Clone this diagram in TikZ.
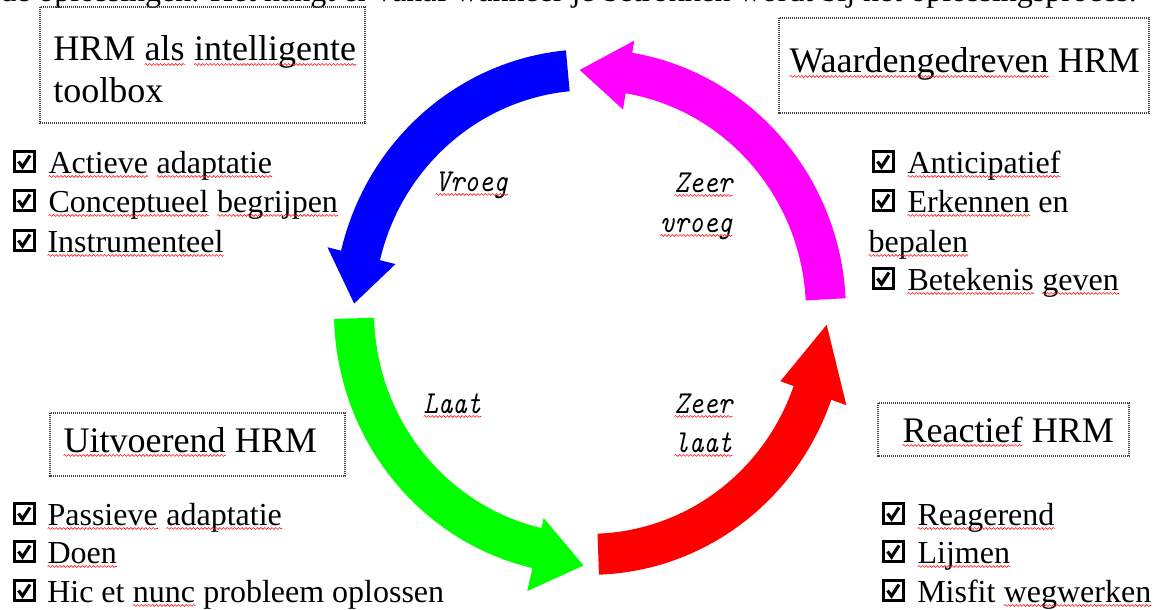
\documentclass[tikz,border=0pt]{standalone}
\usepackage{fontspec}
\setmainfont{Liberation Serif}
\newfontfamily\cuefont[ItalicFont=lmmono10-italic.otf, FakeStretch=0.86]{lmmono10-regular.otf}
\usetikzlibrary{decorations.pathmorphing}

\definecolor{arrMagenta}{RGB}{255,0,255}
\definecolor{arrBlue}{RGB}{0,0,255}
\definecolor{arrGreen}{RGB}{0,255,0}
\definecolor{arrRed}{RGB}{255,0,0}

% red wavy underline under a word
\tikzset{squiggle/.style={draw=red!90!white, line width=0.45pt, decorate,
  decoration={snake, amplitude=0.7pt, segment length=2.8pt}}}
\newcommand\sq[1]{\tikz[baseline=(sqw.base)]{\node[inner sep=0pt,outer sep=0pt](sqw){#1};%
  \draw[squiggle] ([yshift=-2.6pt]sqw.base west) -- ([yshift=-2.6pt]sqw.base east);}}

% outer and inner radius of the ring band
\def\arcRo{256}
\def\arcRi{216}
% colour, start angle, head base angle, tip angle, inner wing, outer wing, tip radius
\newcommand\cyclearrow[7]{%
  \fill[#1] (#2:\arcRo) arc[start angle=#2, end angle=#3, radius=\arcRo]
    -- (#3:#6) -- (#4:#7) -- (#3:#5) -- (#3:\arcRi)
    arc[start angle=#3, end angle=#2, radius=\arcRi] -- cycle;}

\begin{document}
\begin{tikzpicture}[x=0.75pt, y=-0.75pt,
  heading/.style={anchor=base west, inner sep=0pt, font=\fontsize{27}{31.5}\selectfont},
  item/.style={anchor=base west, inner sep=0pt, font=\fontsize{24}{30}\selectfont},
  cue/.style={inner sep=0pt, font=\cuefont\itshape\fontsize{24}{28}\selectfont},
  frame/.style={draw=black!75, line width=0.8pt, dash pattern=on 0.8pt off 0.7pt},
  chk/.pic={\draw[line width=2.3pt] (1.5,-1.5) rectangle (21.5,-21.5);
            \draw[line width=2.4pt, line join=miter] (5.5,-11.5) -- (9.5,-6) -- (17,-17.5);}]
\useasboundingbox (0,0) rectangle (1157,610);
\fill[white] (0,0) rectangle (1157,610);

% running text of the page above the figure
\begin{scope}
  \clip (0,0) rectangle (1157,610);
  \node[item] (runon) at (0,2) {de oplossingen. Het hangt er vanaf wanneer je betrokken wordt bij het oplossingsproces.};
\end{scope}

% the four cycle arrows
\begin{scope}[shift={(590,312)}, y=0.77pt]
  \cyclearrow{arrMagenta}{3}{80.5}{92.5}{200}{268}{236}
  \cyclearrow{arrBlue}{95.4}{166.5}{178}{200}{270}{236}
  \cyclearrow{arrGreen}{181.5}{257}{268.5}{206}{279}{247}
  \cyclearrow{arrRed}{272}{340.5}{357}{202}{272}{237}
\end{scope}

% phase labels inside the cycle
\node[cue, anchor=base west] (vroeg) at (435,191) {\sq{Vroeg}};
\node[cue, anchor=base east] (zv1) at (733,192) {\sq{Zeer}};
\node[cue, anchor=base east] (zv2) at (733,232) {\sq{vroeg}};
\node[cue, anchor=base west] (laat) at (423,413) {\sq{Laat}};
\node[cue, anchor=base east] (zl1) at (733,413) {\sq{Zeer}};
\node[cue, anchor=base east] (zl2) at (733,452) {\sq{laat}};

% top left: HRM als intelligente toolbox
\draw[frame] (40,7) rectangle (365,123);
\node[heading] (tb1) at (53,61) {HRM \sq{als} \sq{intelligente}};
\node[heading] (tb2) at (53,103) {toolbox};
\pic at (13,173) {chk};
\node[item] (tba) at (48,173) {\sq{Actieve} \sq{adaptatie}};
\pic at (13,212) {chk};
\node[item] (tbb) at (48,212) {\sq{Conceptueel} \sq{begrijpen}};
\pic at (13,252) {chk};
\node[item] (tbc) at (47,252) {\sq{Instrumenteel}};

% top right: Waardengedreven HRM
\draw[frame] (779,18) rectangle (1149,113);
\node[heading] (wd) at (789,73) {\sq{Waardengedreven} HRM};
\pic at (872,173) {chk};
\node[item] (wda) at (907,173) {\sq{Anticipatief}};
\pic at (872,212) {chk};
\node[item] (wdb) at (907,212) {\sq{Erkennen} en};
\node[item] (wdb2) at (868,252) {\sq{bepalen}};
\pic at (872,290) {chk};
\node[item] (wdc) at (907,290) {\sq{Betekenis} \sq{geven}};

% bottom left: Uitvoerend HRM
\draw[frame] (50,413) rectangle (345,476);
\node[heading] (uv) at (63,452) {\sq{Uitvoerend} HRM};
\pic at (13,525) {chk};
\node[item] (uva) at (47,525) {\sq{Passieve} \sq{adaptatie}};
\pic at (13,563) {chk};
\node[item] (uvb) at (47,563) {\sq{Doen}};
\pic at (13,602) {chk};
\node[item] (uvc) at (47,602) {Hic et \sq{nunc} probleem oplossen};

% bottom right: Reactief HRM
\draw[frame] (878,403) rectangle (1129,456);
\node[heading] (ra) at (902,442) {\sq{Reactief} HRM};
\pic at (882,525) {chk};
\node[item] (raa) at (917,525) {\sq{Reagerend}};
\pic at (882,563) {chk};
\node[item] (rab) at (917,563) {\sq{Lijmen}};
\pic at (882,602) {chk};
\node[item] (rac) at (917,602) {Misfit \sq{wegwerken}};
\end{tikzpicture}
\end{document}
